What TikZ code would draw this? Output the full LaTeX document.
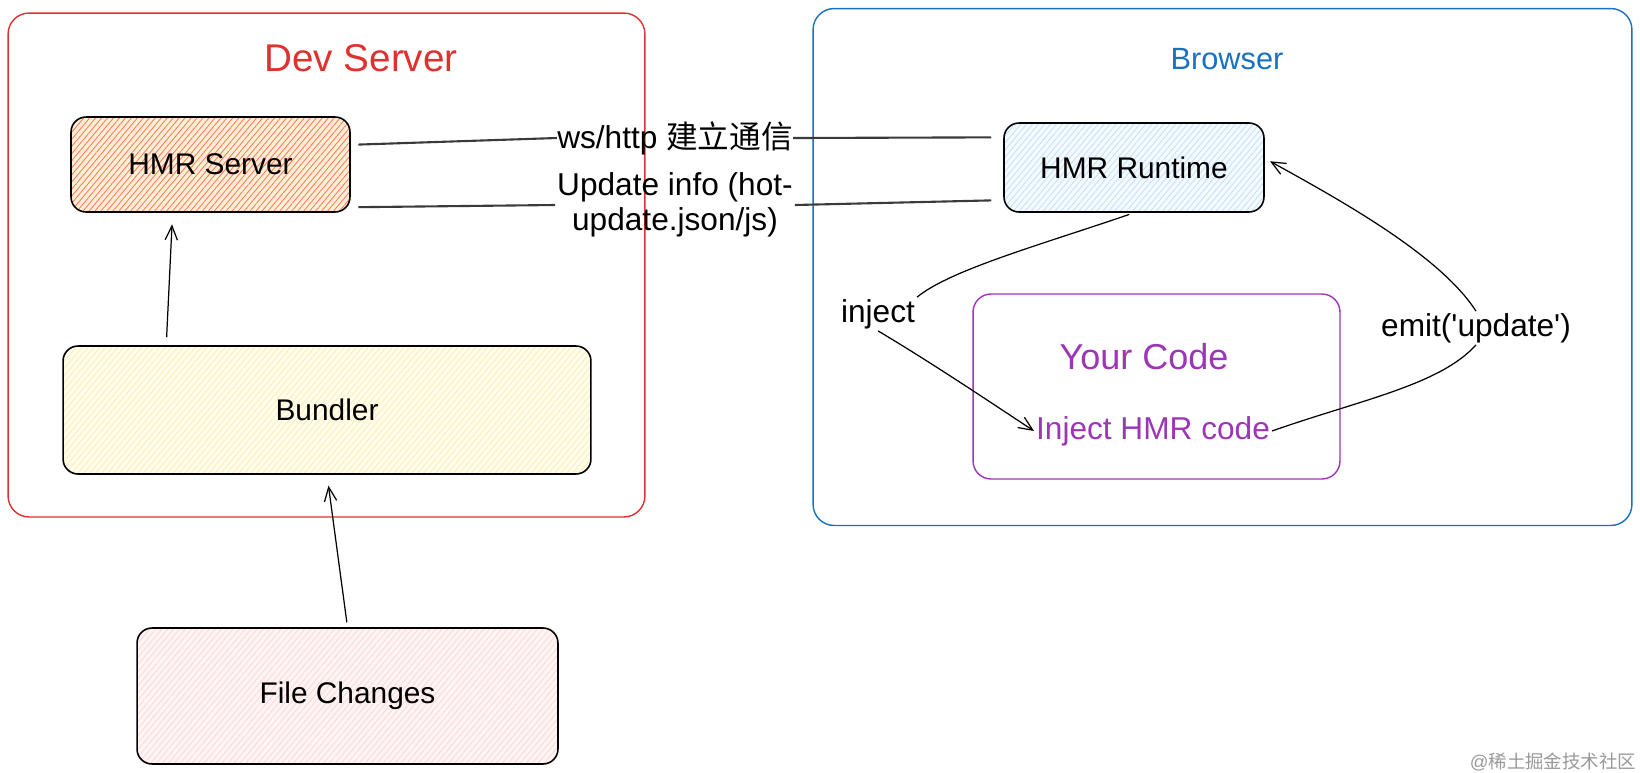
\documentclass[tikz,border=0pt]{standalone}
\usepackage{fontspec}
\setmainfont{Liberation Sans}
\newfontfamily\cjkfont{Noto Sans CJK SC}
\usepackage{tikz}
\usetikzlibrary{arrows.meta,patterns.meta}

\definecolor{devred}{HTML}{E03131}
\definecolor{browserblue}{HTML}{1971C2}
\definecolor{codepurple}{HTML}{9C36B5}
\definecolor{linkgray}{HTML}{3A3A3A}

\begin{document}
\begin{tikzpicture}[x=0.02cm, y=-0.02cm,
		frame_style/.style={rectangle,rounded corners=0.42cm,line width=0.8pt,inner sep=0pt},
		box_style/.style={rectangle,draw=black,rounded corners=0.3cm,line width=0.9pt,inner sep=0pt,font=\fontsize{17}{20}\selectfont},
		hatch_fill/.style 2 args={preaction={fill=#1},pattern={Lines[angle=50,distance=2.6pt,line width=0.45pt]},pattern color=#2},
		title_style/.style={font=\fontsize{22}{26}\selectfont},
		label_style/.style={inner sep=1pt,font=\fontsize{18}{21}\selectfont},
		link_style/.style={draw=linkgray,line width=1.2pt},
		arrow_style/.style={draw=black,line width=0.7pt,-{Straight Barb[length=8pt,width=7pt]}}]
		\useasboundingbox (0,0) rectangle (1640,772);

		% frames
		\node[frame_style,draw=devred,minimum width=12.74cm,minimum height=10.08cm] (dev_box) at (326.5,265) {};
		\node[frame_style,draw=browserblue,minimum width=16.38cm,minimum height=10.34cm] (browser_box) at (1222.5,267) {};
		\node[frame_style,draw=codepurple,rounded corners=0.36cm,minimum width=7.34cm,minimum height=3.7cm] (code_box) at (1156.5,386.5) {};

		\node[title_style,text=devred] (dev_title) at (361,58) {Dev Server};
		\node[label_style,font=\fontsize{17.5}{20}\selectfont,text=browserblue] (browser_title) at (1227,59) {Browser};

		% boxes
		\node[box_style,hatch_fill={orange!14}{orange!60!red!75},minimum width=5.58cm,minimum height=1.9cm] (hmrs) at (210.5,164.5) {HMR Server};
		\node[box_style,hatch_fill={yellow!8}{yellow!40!orange!28},minimum width=10.56cm,minimum height=2.56cm] (bundler) at (327,410) {Bundler};
		\node[box_style,hatch_fill={red!4}{red!16},minimum width=8.42cm,minimum height=2.72cm] (file) at (347.5,696) {File Changes};
		\node[box_style,hatch_fill={cyan!5}{cyan!25!blue!20},minimum width=5.2cm,minimum height=1.78cm] (hmrr) at (1134,167.5) {HMR Runtime};

		\node[label_style,font=\fontsize{20.5}{24}\selectfont,text=codepurple] (your_code) at (1144,357) {Your Code};
		\node[label_style,text=codepurple] (inj_code) at (1153,431) {Inject HMR code};

		% labels
		\node[label_style,inner sep=0pt] (ws_lbl) at (675,138) {ws/http {\cjkfont 建立通信}};
		\node[label_style,align=center,font=\fontsize{18}{20}\selectfont] (upd_lbl) at (675,205) {Update info (hot-\\update.json/js)};
		\node[label_style] (inj_lbl) at (878,314) {inject};
		\node[label_style] (emit_lbl) at (1476,328) {emit(\textquotesingle update\textquotesingle)};

		\node[font=\fontsize{10.5}{12}\selectfont,text=black!40] (mark) at (1553,762) {@{\cjkfont 稀土掘金技术社区}};

		% connectors
		\draw[link_style,shorten <=0.16cm] (hmrs.8.6) -- (ws_lbl.west);
		\draw[link_style,shorten >=0.24cm] (ws_lbl.east) -- (hmrr.167);
		\draw[link_style,shorten <=0.16cm] (hmrs.-17.7) -- (upd_lbl.west);
		\draw[link_style,shorten >=0.24cm] (upd_lbl.east) -- (hmrr.194);

		\draw[arrow_style,shorten <=0.16cm,shorten >=0.24cm] ([xshift=2.08cm]bundler.north west) -- ([xshift=2.04cm]hmrs.south west);
		\draw[arrow_style,shorten <=0.1cm,shorten >=0.22cm] (file.north) -- (bundler.south);

		\draw[line width=0.7pt,shorten <=0.1cm] (hmrr.south) .. controls (1040,245) and (950,270) .. (inj_lbl.north east);
		\draw[arrow_style] (inj_lbl.south) .. controls (930,362) and (975,392) .. (inj_code.west);
		\draw[line width=0.7pt] (inj_code.east) .. controls (1360,400) and (1440,385) .. (emit_lbl.south);
		\draw[arrow_style,shorten >=0.12cm] (emit_lbl.north) .. controls (1440,255) and (1340,200) .. (hmrr.4.6);
\end{tikzpicture}
\end{document}
